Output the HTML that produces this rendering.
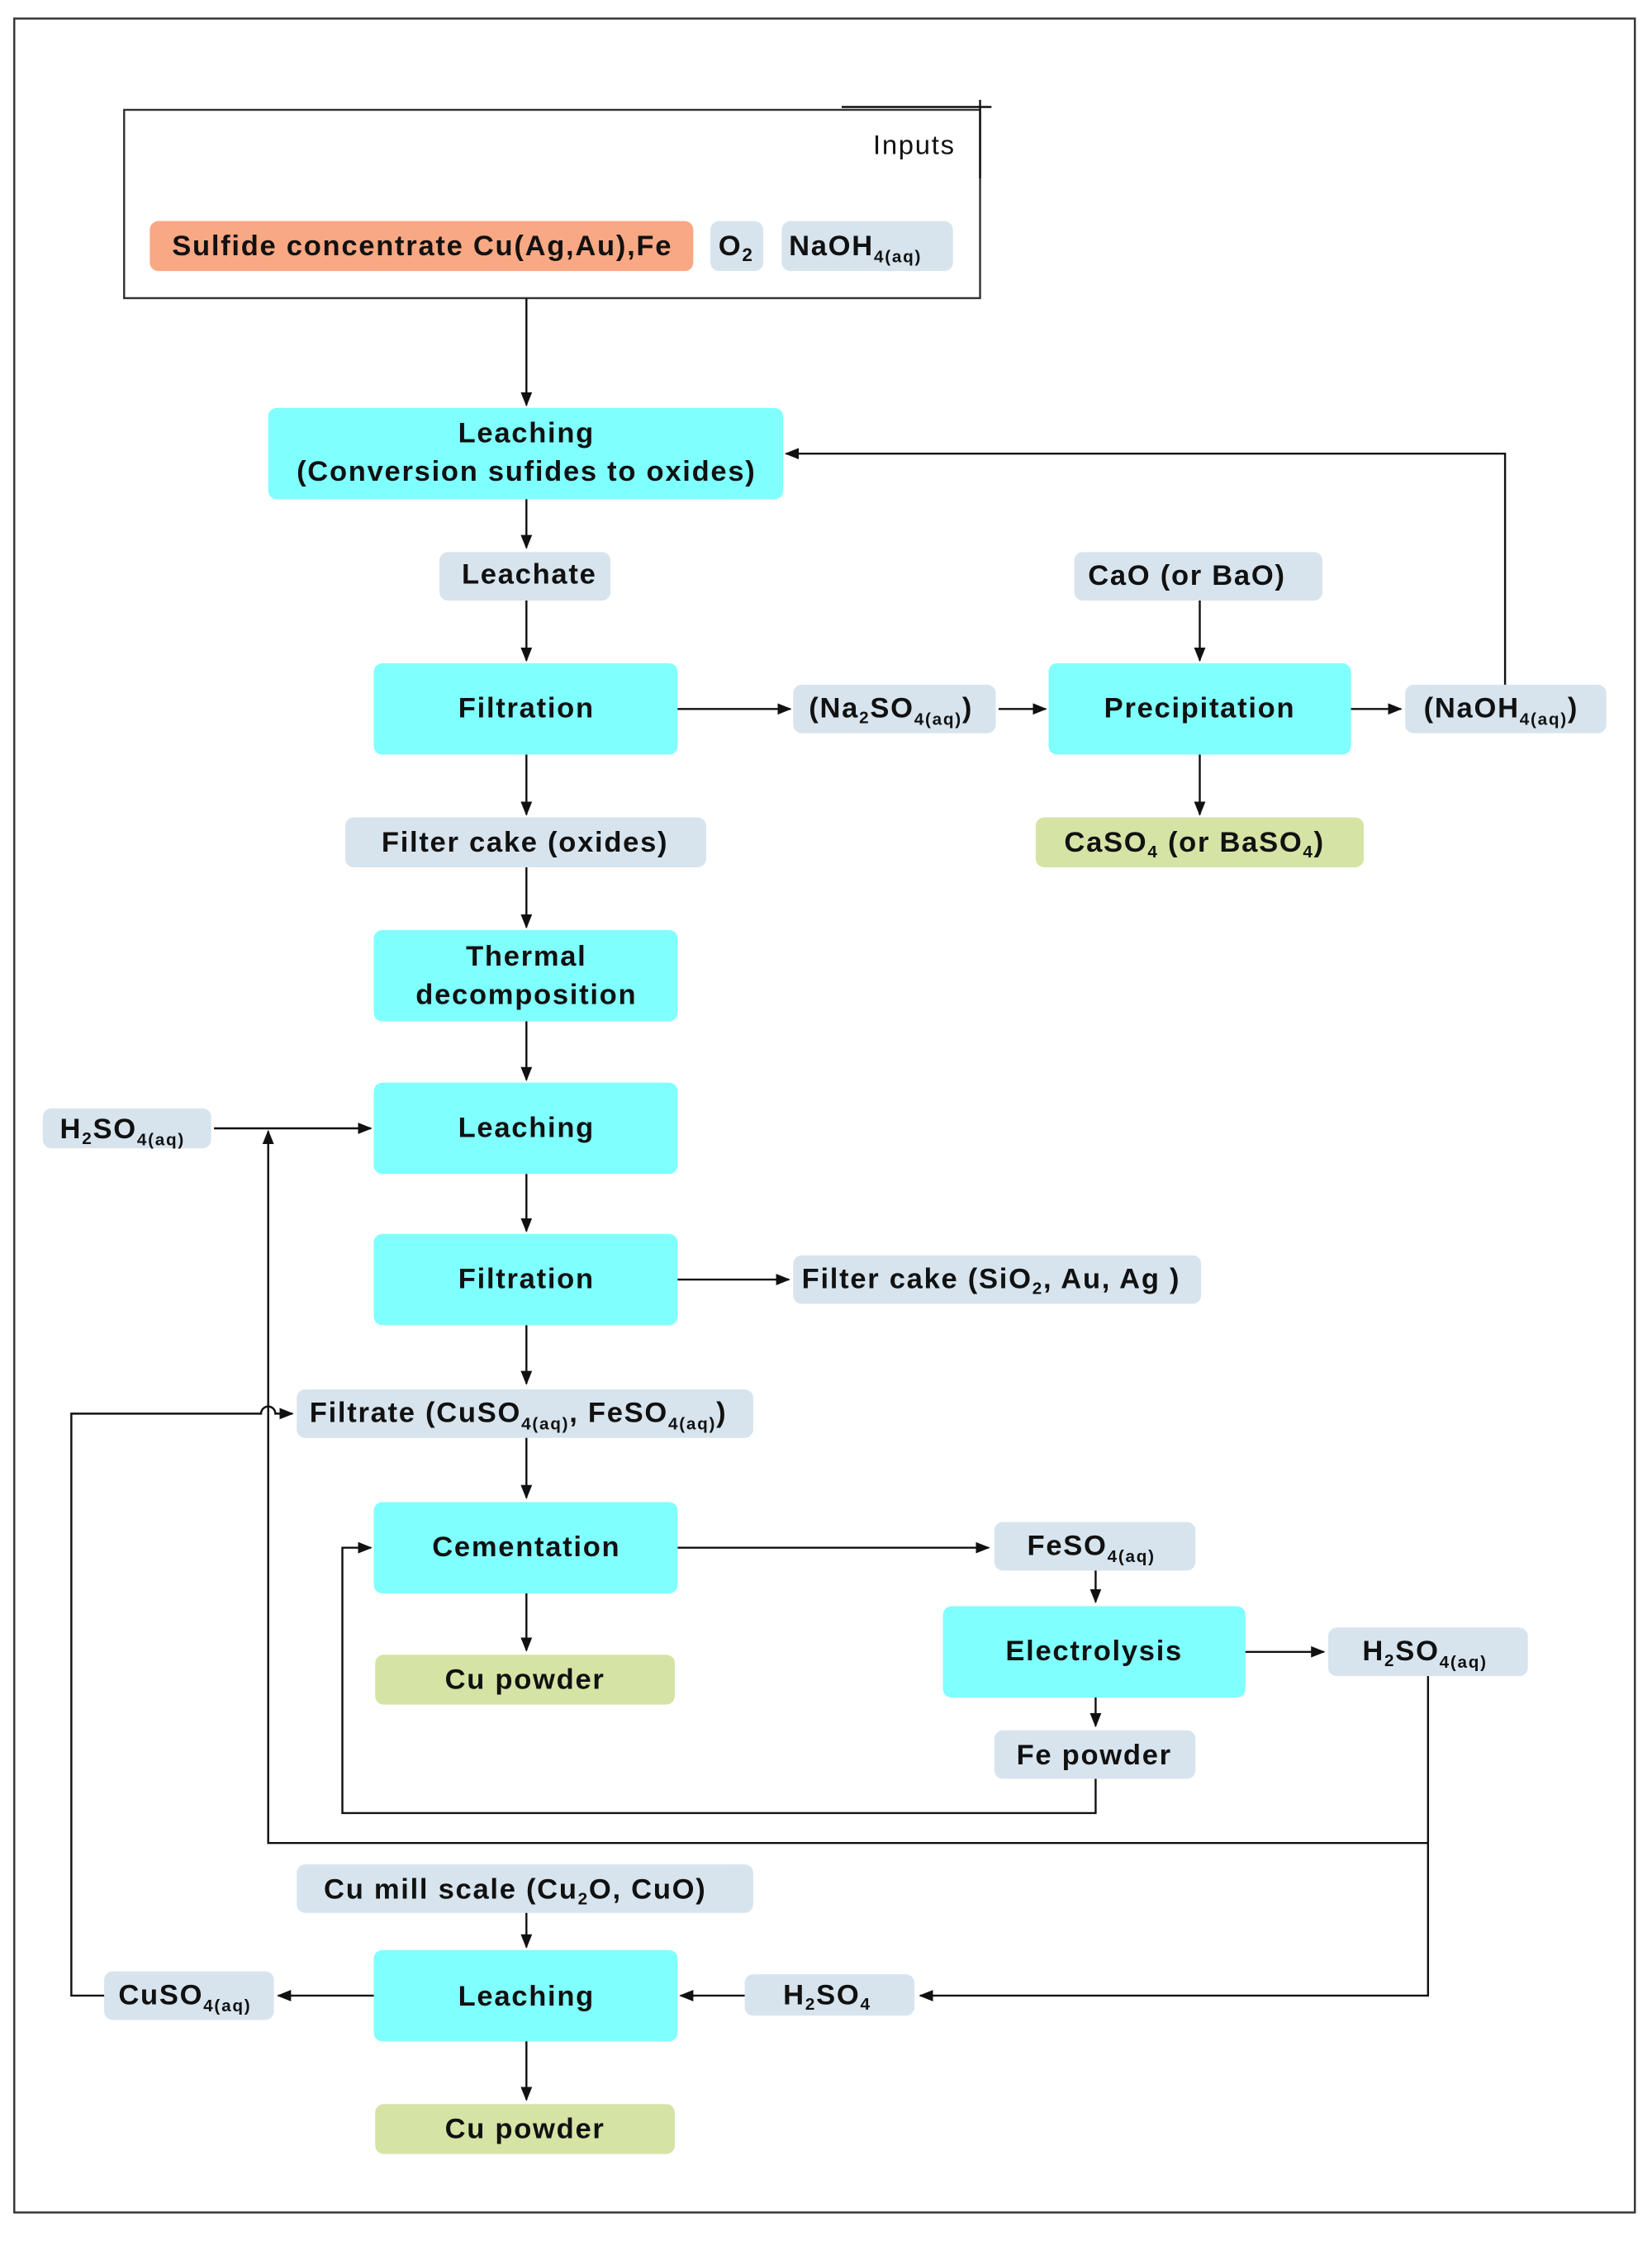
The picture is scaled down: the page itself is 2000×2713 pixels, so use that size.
<!DOCTYPE html>
<html><head><meta charset="utf-8"><style>
html,body{margin:0;padding:0;background:#fff}
svg{display:block}
text{font-family:"Liberation Sans",Arial,sans-serif;font-weight:bold;font-size:20px;fill:#111;letter-spacing:1px}
.c{fill:#80FFFF}
.b{fill:#D7E4EE}
.g{fill:#D5E3A5}
.o{fill:#F9A884}
line,path{stroke:#111;stroke-width:1.4;fill:none}
</style></head><body>
<svg width="2000" height="2713" viewBox="0 0 1158 1571" preserveAspectRatio="none" xmlns="http://www.w3.org/2000/svg">
<defs><marker id="a" markerWidth="10" markerHeight="10" refX="9" refY="5" orient="auto" markerUnits="userSpaceOnUse"><path d="M0,1 L10,5 L0,9 Z" style="fill:#111;stroke:none"/></marker></defs>
<rect x="10" y="13" width="1136" height="1538" fill="none" stroke="#333" stroke-width="1.4"/>
<rect x="87" y="77" width="600" height="132" fill="none" stroke="#333" stroke-width="1.4"/>
<line x1="590" y1="75" x2="695" y2="75"/><line x1="687" y1="70" x2="687" y2="125"/>
<text x="612" y="108" style="font-weight:normal;font-size:19px">Inputs</text>
<rect class="o" x="105" y="155" width="381" height="35" rx="6"/>
<text x="296" y="179" text-anchor="middle">Sulfide concentrate Cu(Ag,Au),Fe</text>
<rect class="b" x="498" y="155" width="37" height="35" rx="6"/>
<text x="516" y="179" text-anchor="middle">O<tspan font-size="13" dy="4">2</tspan></text>
<rect class="b" x="548" y="155" width="120" height="35" rx="6"/>
<text x="553" y="179">NaOH<tspan font-size="12" dy="5">4(aq)</tspan></text>

<line x1="369" y1="209" x2="369" y2="284" marker-end="url(#a)"/>
<rect class="c" x="188" y="286" width="361" height="64" rx="6"/>
<text x="369" y="310" text-anchor="middle">Leaching</text>
<text x="369" y="337" text-anchor="middle">(Conversion sufides to oxides)</text>
<line x1="369" y1="350" x2="369" y2="384" marker-end="url(#a)"/>
<rect class="b" x="308" y="387" width="120" height="34" rx="6"/>
<text x="371" y="409" text-anchor="middle">Leachate</text>
<line x1="369" y1="421" x2="369" y2="463" marker-end="url(#a)"/>
<rect class="c" x="262" y="465" width="213" height="64" rx="6"/>
<text x="369" y="503" text-anchor="middle">Filtration</text>
<line x1="475" y1="497" x2="554" y2="497" marker-end="url(#a)"/>
<rect class="b" x="556" y="480" width="142" height="34" rx="6"/>
<text x="567" y="503">(Na<tspan font-size="12" dy="4">2</tspan><tspan dy="-4">SO</tspan><tspan font-size="12" dy="5">4(aq)</tspan><tspan dy="-5">)</tspan></text>
<line x1="700" y1="497" x2="733" y2="497" marker-end="url(#a)"/>
<rect class="c" x="735" y="465" width="212" height="64" rx="6"/>
<text x="841" y="503" text-anchor="middle">Precipitation</text>
<line x1="947" y1="497" x2="982" y2="497" marker-end="url(#a)"/>
<rect class="b" x="985" y="480" width="141" height="34" rx="6"/>
<text x="998" y="503">(NaOH<tspan font-size="12" dy="5">4(aq)</tspan><tspan dy="-5">)</tspan></text>
<path d="M1055,480 V318 H551" marker-end="url(#a)"/>
<rect class="b" x="753" y="387" width="174" height="34" rx="6"/>
<text x="832" y="410" text-anchor="middle">CaO (or BaO)</text>
<line x1="841" y1="421" x2="841" y2="463" marker-end="url(#a)"/>
<line x1="841" y1="529" x2="841" y2="571" marker-end="url(#a)"/>
<rect class="g" x="726" y="573" width="230" height="35" rx="6"/>
<text x="746" y="597">CaSO<tspan font-size="12" dy="4">4</tspan><tspan dy="-4"> (or BaSO</tspan><tspan font-size="12" dy="4">4</tspan><tspan dy="-4">)</tspan></text>

<line x1="369" y1="529" x2="369" y2="571" marker-end="url(#a)"/>
<rect class="b" x="242" y="573" width="253" height="35" rx="6"/>
<text x="368" y="597" text-anchor="middle">Filter cake (oxides)</text>
<line x1="369" y1="608" x2="369" y2="650" marker-end="url(#a)"/>
<rect class="c" x="262" y="652" width="213" height="64" rx="6"/>
<text x="369" y="677" text-anchor="middle">Thermal</text>
<text x="369" y="704" text-anchor="middle">decomposition</text>
<line x1="369" y1="716" x2="369" y2="757" marker-end="url(#a)"/>
<rect class="c" x="262" y="759" width="213" height="64" rx="6"/>
<text x="369" y="797" text-anchor="middle">Leaching</text>
<rect class="b" x="30" y="777" width="118" height="28" rx="6"/>
<text x="42" y="798">H<tspan font-size="12" dy="4">2</tspan><tspan dy="-4">SO</tspan><tspan font-size="12" dy="5">4(aq)</tspan></text>
<line x1="150" y1="791" x2="260" y2="791" marker-end="url(#a)"/>
<line x1="369" y1="823" x2="369" y2="863" marker-end="url(#a)"/>
<rect class="c" x="262" y="865" width="213" height="64" rx="6"/>
<text x="369" y="903" text-anchor="middle">Filtration</text>
<line x1="475" y1="897" x2="553" y2="897" marker-end="url(#a)"/>
<rect class="b" x="556" y="880" width="286" height="34" rx="6"/>
<text x="562" y="903">Filter cake (SiO<tspan font-size="12" dy="4">2</tspan><tspan dy="-4">, Au, Ag )</tspan></text>
<line x1="369" y1="929" x2="369" y2="970" marker-end="url(#a)"/>
<rect class="b" x="208" y="974" width="320" height="34" rx="6"/>
<text x="217" y="997">Filtrate (CuSO<tspan font-size="12" dy="5">4(aq)</tspan><tspan dy="-5">, FeSO</tspan><tspan font-size="12" dy="5">4(aq)</tspan><tspan dy="-5">)</tspan></text>
<line x1="369" y1="1008" x2="369" y2="1050" marker-end="url(#a)"/>
<rect class="c" x="262" y="1053" width="213" height="64" rx="6"/>
<text x="369" y="1091" text-anchor="middle">Cementation</text>
<line x1="475" y1="1085" x2="693" y2="1085" marker-end="url(#a)"/>
<rect class="b" x="697" y="1067" width="141" height="34" rx="6"/>
<text x="720" y="1090">FeSO<tspan font-size="12" dy="5">4(aq)</tspan></text>
<line x1="768" y1="1101" x2="768" y2="1123" marker-end="url(#a)"/>
<rect class="c" x="661" y="1126" width="212" height="64" rx="6"/>
<text x="767" y="1164" text-anchor="middle">Electrolysis</text>
<line x1="873" y1="1158" x2="928" y2="1158" marker-end="url(#a)"/>
<rect class="b" x="931" y="1141" width="140" height="34" rx="6"/>
<text x="955" y="1164">H<tspan font-size="12" dy="4">2</tspan><tspan dy="-4">SO</tspan><tspan font-size="12" dy="5">4(aq)</tspan></text>
<line x1="768" y1="1190" x2="768" y2="1210" marker-end="url(#a)"/>
<rect class="b" x="697" y="1213" width="141" height="34" rx="6"/>
<text x="767" y="1237" text-anchor="middle">Fe powder</text>
<path d="M768,1247 V1271 H240 V1085 H260" marker-end="url(#a)"/>
<line x1="369" y1="1117" x2="369" y2="1157" marker-end="url(#a)"/>
<rect class="g" x="263" y="1160" width="210" height="35" rx="6"/>
<text x="368" y="1184" text-anchor="middle">Cu powder</text>

<path d="M1001,1175 V1399 H645" marker-end="url(#a)"/>
<path d="M1001,1292 H188 V793" marker-end="url(#a)"/>
<rect class="b" x="208" y="1307" width="320" height="34" rx="6"/>
<text x="227" y="1331">Cu mill scale  (Cu<tspan font-size="12" dy="4">2</tspan><tspan dy="-4">O, CuO)</tspan></text>
<line x1="369" y1="1341" x2="369" y2="1365" marker-end="url(#a)"/>
<rect class="c" x="262" y="1367" width="213" height="64" rx="6"/>
<text x="369" y="1406" text-anchor="middle">Leaching</text>
<rect class="b" x="522" y="1384" width="119" height="29" rx="6"/>
<text x="549" y="1405">H<tspan font-size="12" dy="4">2</tspan><tspan dy="-4">SO</tspan><tspan font-size="12" dy="4">4</tspan></text>
<line x1="522" y1="1399" x2="477" y2="1399" marker-end="url(#a)"/>
<rect class="b" x="73" y="1382" width="119" height="34" rx="6"/>
<text x="83" y="1405">CuSO<tspan font-size="12" dy="5">4(aq)</tspan></text>
<line x1="262" y1="1399" x2="195" y2="1399" marker-end="url(#a)"/>
<path d="M73,1399 H50 V991 H183 A5,5 0 0 1 193,991 H205" marker-end="url(#a)"/>
<line x1="369" y1="1431" x2="369" y2="1472" marker-end="url(#a)"/>
<rect class="g" x="263" y="1475" width="210" height="35" rx="6"/>
<text x="368" y="1499" text-anchor="middle">Cu powder</text>
</svg>
</body></html>
